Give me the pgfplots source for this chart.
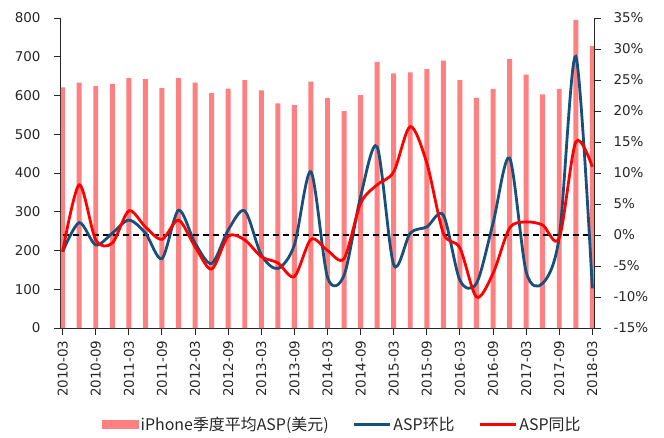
\documentclass[border=0pt]{standalone}
\usepackage{pgfplots}
\pgfplotsset{compat=1.18}
\usepackage{fontspec}
\setmainfont{DejaVu Sans}
\newfontfamily\cjk{Noto Sans CJK SC}
\definecolor{barred}{RGB}{255,128,128}
\definecolor{aspblue}{RGB}{23,80,122}
\definecolor{aspred}{RGB}{255,0,0}
\begin{document}
\begin{tikzpicture}
\pgfplotsset{every axis/.append style={scale only axis, width=533bp, height=310bp,
  xmin=-0.1, xmax=32.1, tick align=outside, major tick length=7bp,
  axis line style={line width=1bp, black!85},
  every tick/.style={black!85, line width=1bp},
  tick label style={font=\fontsize{13.5}{16}\selectfont, text=black!85}}}
\begin{axis}[
  axis x line*=bottom, axis y line*=left,
  ymin=0, ymax=800, ytick={0,100,...,800},
  yticklabels={0,100,200,300,400,500,600,700,800},
  yticklabel style={xshift=-10bp},
  xtick={0,2,...,32},
  xticklabels={2010-03,2010-09,2011-03,2011-09,2012-03,2012-09,2013-03,2013-09,2014-03,2014-09,2015-03,2015-09,2016-03,2016-09,2017-03,2017-09,2018-03},
  xticklabel style={rotate=90, anchor=east, xshift=-2bp},
]
\addplot[ybar, bar width=0.3, fill=barred, draw=none] coordinates {
(0,621) (1,633) (2,624) (3,630) (4,645) (5,642) (6,619) (7,645) (8,633) (9,606)
(10,618) (11,640) (12,613) (13,580) (14,575) (15,636) (16,594) (17,560) (18,601) (19,687)
(20,657) (21,660) (22,668) (23,690) (24,640) (25,594) (26,617) (27,694) (28,654) (29,603)
(30,617) (31,795) (32,728)};
\end{axis}
\begin{axis}[
  axis y line*=right, axis x line=none,
  ymin=-15, ymax=35, ytick={-15,-10,...,35},
  yticklabels={-15\%,-10\%,-5\%,0\%,5\%,10\%,15\%,20\%,25\%,30\%,35\%},
  yticklabel style={xshift=9bp},
  legend image code/.code={\draw[#1, line width=2.8bp] (0bp,0bp) -- (36bp,0bp);},
  legend style={draw=none, fill=none, legend columns=3,
    font=\cjk\fontsize{16}{19}\selectfont, text=black!85,
    at={(0.528,-0.31)}, anchor=center,
    /tikz/every even column/.append style={column sep=22bp}},
]
\addlegendimage{legend image code/.code={\fill[barred] (0bp,-4bp) rectangle (36bp,4bp);}}
\addlegendentry{iPhone季度平均ASP(美元)}
\addplot[black, line width=1.3bp, dash pattern=on 6bp off 4bp, forget plot] coordinates {(0,0) (32,0)};
\addplot[aspblue, line width=2.8bp, smooth] coordinates {
(0,-2.7) (1,2.0) (2,-1.6) (3,0.3) (4,2.4) (5,0.3) (6,-3.8) (7,4.0) (8,-1.3) (9,-4.6)
(10,0.8) (11,3.9) (12,-3.2) (13,-5.4) (14,-1.6) (15,10.2) (16,-6.8) (17,-6.5) (18,6.2) (19,14.2)
(20,-4.8) (21,0.3) (22,1.3) (23,3.2) (24,-7.3) (25,-7.8) (26,1.9) (27,12.4) (28,-5.9) (29,-7.8)
(30,-0.3) (31,28.8) (32,-8.6)};
\addlegendentry{ASP环比}
\addplot[aspred, line width=2.8bp, smooth] coordinates {
(0,-2.7) (1,8.1) (2,-0.8) (3,-1.3) (4,3.9) (5,1.3) (6,-0.7) (7,2.4) (8,-1.9) (9,-5.5)
(10,-0.2) (11,-0.8) (12,-3.5) (13,-4.5) (14,-6.7) (15,-0.7) (16,-2.5) (17,-3.8) (18,5.1) (19,8.1)
(20,10.2) (21,17.5) (22,11.6) (23,0.3) (24,-2.1) (25,-10.0) (26,-6.2) (27,1.1) (28,2.1) (29,1.6)
(30,-0.5) (31,15.0) (32,11.0)};
\addlegendentry{ASP同比}
\end{axis}
\pgfresetboundingbox
\path (-61bp,-110bp) rectangle (603bp,328bp);
\end{tikzpicture}
\end{document}
